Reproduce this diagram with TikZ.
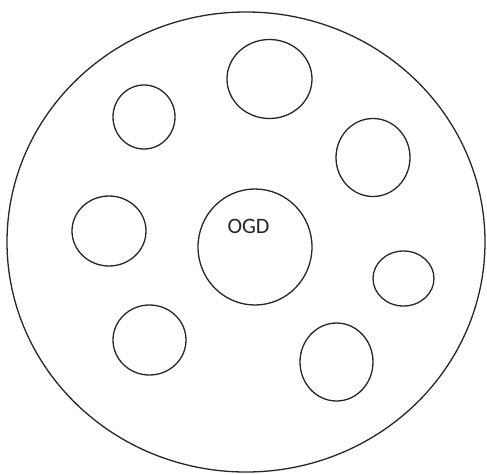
\documentclass[tikz,border=0pt]{standalone}
\usepackage{fontspec}
\setmainfont{Carlito}
\usetikzlibrary{shapes.geometric}
\begin{document}
\begin{tikzpicture}[x=1pt,y=-1pt,
  blob/.style={draw=black!85, line width=1.3pt, ellipse, inner sep=0pt}]
\useasboundingbox (0,0) rectangle (487,474);
\node[blob, minimum width=478pt, minimum height=460pt] (outer) at (246,242) {};
\node[blob, minimum width=85pt, minimum height=79pt] (top) at (269.5,79) {};
\node[blob, minimum width=62pt, minimum height=64pt] (ul) at (144,117) {};
\node[blob, minimum width=74pt, minimum height=78pt] (ur) at (373,157.5) {};
\node[blob, minimum width=74pt, minimum height=70pt] (l) at (109,231) {};
\node[blob, minimum width=114pt, minimum height=116pt] (ogd) at (255,247) {};
\node[blob, minimum width=61pt, minimum height=55pt] (r) at (403.5,278.5) {};
\node[blob, minimum width=73pt, minimum height=70pt] (ll) at (149.5,340) {};
\node[blob, minimum width=73pt, minimum height=78pt] (lr) at (336.5,362) {};
\node[font=\fontsize{22pt}{26pt}\selectfont, text=black!85, inner sep=0pt] (lbl) at (248.5,226.5) {OGD};
\end{tikzpicture}
\end{document}
